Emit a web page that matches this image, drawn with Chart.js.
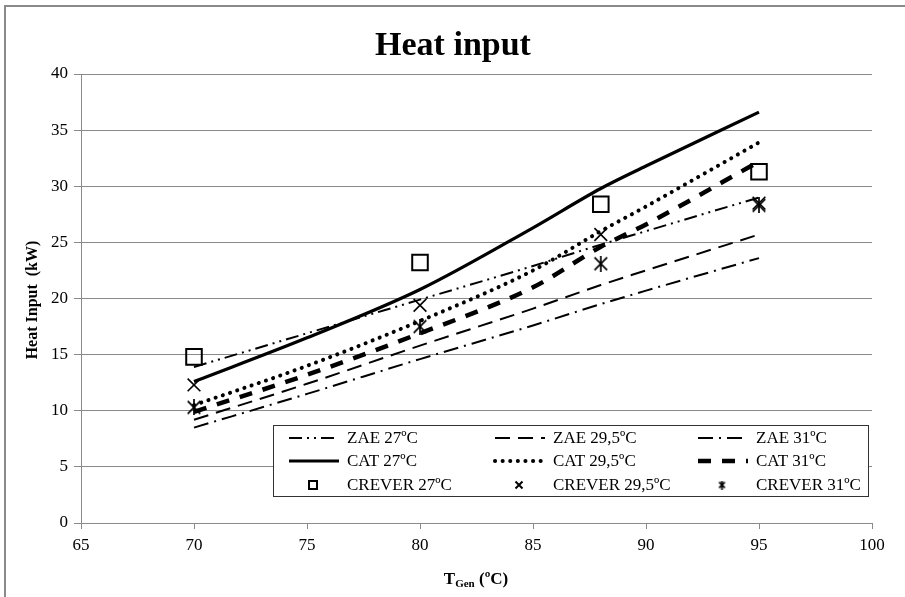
<!DOCTYPE html>
<html lang="en">
<head>
    <meta charset="UTF-8">
    <title>Heat input</title>
    <style>
        body { margin: 0; background: #ffffff; }
        .grafico-container { width: 905px; height: 597px; position: relative; }
    </style>
</head>
<body>
    <div class="grafico-container">
        <canvas id="grafico"></canvas>
    </div>

    <script src="https://cdn.jsdelivr.net/npm/chart.js"></script>
    <script>
        // Dados
        const xTicks = [65, 70, 75, 80, 85, 90, 95, 100];
        const yTicks = [0, 5, 10, 15, 20, 25, 30, 35, 40];

        const tModel = [70, 75, 80, 85, 88, 90, 95];
        const zae27 = [13.9, 16.9, 19.9, 22.9, 24.8, 26.0, 29.0];
        const zae295 = [9.2, 12.4, 15.8, 19.1, 21.2, 22.5, 25.7];
        const zae31 = [8.5, 11.5, 14.6, 17.6, 19.5, 20.7, 23.6];
        const cat27 = [12.6, 16.5, 20.8, 26.3, 29.8, 31.8, 36.6];
        const cat295 = [10.5, 14.0, 18.0, 22.5, 26.0, 28.2, 33.9];
        const cat31 = [9.9, 13.2, 16.9, 21.0, 24.6, 26.6, 32.2];

        const tCrever = [70, 80, 88, 95];
        const crever27 = [14.8, 23.2, 28.4, 31.3];
        const crever295 = [12.3, 19.4, 25.7, 28.5];
        const crever31 = [10.3, 17.5, 23.1, 28.3];

        const pts = (xs, ys) => xs.map((x, i) => ({ x: x, y: ys[i] }));

        // Marcador asterisco (estilo Excel)
        function makeStar(size, lw) {
            const c = document.createElement('canvas');
            c.width = size; c.height = size;
            const g = c.getContext('2d');
            const m = lw;
            g.strokeStyle = '#000';
            g.lineWidth = lw;
            g.beginPath();
            g.moveTo(m, m); g.lineTo(size - m, size - m);
            g.moveTo(size - m, m); g.lineTo(m, size - m);
            g.moveTo(size / 2, 0); g.lineTo(size / 2, size);
            g.stroke();
            return c;
        }
        const starBig = makeStar(16, 1.7);
        const starSmall = makeStar(9, 1.6);

        const lineDs = (label, data, dash, width, cap) => ({
            label: label,
            data: pts(tModel, data),
            showLine: true,
            borderColor: '#000',
            borderWidth: width,
            borderDash: dash,
            borderCapStyle: cap || 'butt',
            cubicInterpolationMode: 'monotone',
            pointRadius: 0,
            pointHoverRadius: 0,
            fill: false
        });

        const datasets = [
            lineDs('ZAE 27ºC', zae27, [13, 5, 2, 5, 2, 5], 2),
            lineDs('ZAE 29,5ºC', zae295, [15, 8], 2),
            lineDs('ZAE 31ºC', zae31, [15, 6, 2, 6], 2),
            lineDs('CAT 27ºC', cat27, [], 3.2),
            lineDs('CAT 29,5ºC', cat295, [0.1, 7.5], 4, 'round'),
            lineDs('CAT 31ºC', cat31, [13, 11], 4.5),
            {
                label: 'CREVER 27ºC', data: pts(tCrever, crever27), showLine: false,
                pointStyle: 'rect', pointRadius: 11, pointBorderWidth: 2,
                pointBorderColor: '#000', pointBackgroundColor: 'rgba(0,0,0,0)',
                legendStyle: 'rect'
            },
            {
                label: 'CREVER 29,5ºC', data: pts(tCrever, crever295), showLine: false,
                pointStyle: 'crossRot', pointRadius: 9, pointBorderWidth: 1.6,
                pointBorderColor: '#000', legendStyle: 'crossRot'
            },
            {
                label: 'CREVER 31ºC', data: pts(tCrever, crever31), showLine: false,
                pointStyle: starBig, pointRadius: 8, legendStyle: 'star'
            }
        ];

        // Legenda em grade 3x3 dentro da área do gráfico
        const gridLegend = {
            id: 'gridLegend',
            afterDraw(chart) {
                const ctx = chart.ctx;
                const box = { l: 273, t: 425, r: 868, b: 496 };
                const cols = [289, 495, 698];
                const rows = [438, 461, 485];
                ctx.save();
                ctx.fillStyle = '#fff';
                ctx.fillRect(box.l, box.t, box.r - box.l, box.b - box.t);
                ctx.strokeStyle = '#333';
                ctx.lineWidth = 1;
                ctx.strokeRect(box.l + 0.5, box.t + 0.5, box.r - box.l, box.b - box.t);

                chart.data.datasets.forEach((ds, i) => {
                    const x = cols[i % 3];
                    const y = rows[Math.floor(i / 3)];
                    ctx.strokeStyle = '#000';
                    if (ds.showLine) {
                        ctx.setLineDash(ds.borderDash);
                        ctx.lineWidth = ds.borderWidth;
                        ctx.lineCap = ds.borderCapStyle;
                        ctx.beginPath();
                        ctx.moveTo(x, y);
                        ctx.lineTo(x + 50, y);
                        ctx.stroke();
                        ctx.setLineDash([]);
                        ctx.lineCap = 'butt';
                    } else {
                        const cx = x + 24;
                        ctx.lineWidth = 2;
                        if (ds.legendStyle === 'rect') {
                            ctx.strokeRect(cx - 4, y - 4, 8, 8);
                        } else if (ds.legendStyle === 'crossRot') {
                            ctx.beginPath();
                            ctx.moveTo(cx - 3.5, y - 3.5); ctx.lineTo(cx + 3.5, y + 3.5);
                            ctx.moveTo(cx + 3.5, y - 3.5); ctx.lineTo(cx - 3.5, y + 3.5);
                            ctx.stroke();
                        } else {
                            ctx.drawImage(starSmall, cx - 4.5, y - 4.5);
                        }
                    }
                    ctx.fillStyle = '#000';
                    ctx.font = '17px "Liberation Serif", serif';
                    ctx.textBaseline = 'middle';
                    ctx.textAlign = 'left';
                    ctx.fillText(ds.label, x + 58, y + 1);
                });
                ctx.restore();
            }
        };

        // Títulos, moldura e subscrito do eixo X
        const titulos = {
            id: 'titulos',
            beforeDraw(chart) {
                const ctx = chart.ctx;
                ctx.save();
                ctx.fillStyle = '#fff';
                ctx.fillRect(0, 0, chart.width, chart.height);
                ctx.strokeStyle = '#8a8a8a';
                ctx.lineWidth = 2;
                ctx.strokeRect(5, 6, chart.width + 10, chart.height + 10);
                ctx.restore();
            },
            afterDraw(chart) {
                const ctx = chart.ctx;
                ctx.save();
                ctx.fillStyle = '#000';
                ctx.textAlign = 'center';
                ctx.textBaseline = 'alphabetic';
                ctx.font = 'bold 34px "Liberation Serif", serif';
                ctx.fillText('Heat input', 453, 55);

                ctx.translate(37, 300);
                ctx.rotate(-Math.PI / 2);
                ctx.font = 'bold 16px "Liberation Serif", serif';
                ctx.fillText('Heat Input  (kW)', 0, 0);
                ctx.setTransform(1, 0, 0, 1, 0, 0);

                const big = 'bold 17px "Liberation Serif", serif';
                const small = 'bold 11px "Liberation Serif", serif';
                ctx.font = big;
                const wT = ctx.measureText('T').width;
                const wRest = ctx.measureText(' (ºC)').width;
                ctx.font = small;
                const wGen = ctx.measureText('Gen').width;
                let x = 476 - (wT + wGen + wRest) / 2;
                const y = 584;
                ctx.textAlign = 'left';
                ctx.font = big;
                ctx.fillText('T', x, y);
                x += wT;
                ctx.font = small;
                ctx.fillText('Gen', x, y + 3);
                x += wGen;
                ctx.font = big;
                ctx.fillText(' (ºC)', x, y);
                ctx.restore();
            }
        };

        const ctx = document.getElementById('grafico').getContext('2d');
        new Chart(ctx, {
            type: 'scatter',
            data: { datasets: datasets },
            options: {
                responsive: true,
                maintainAspectRatio: false,
                animation: false,
                layout: { padding: { top: 74, right: 33, left: 0, bottom: 0 } },
                scales: {
                    x: {
                        type: 'linear',
                        min: xTicks[0],
                        max: xTicks[xTicks.length - 1],
                        afterBuildTicks: (s) => { s.ticks = xTicks.map(v => ({ value: v })); },
                        afterFit: (s) => { s.height = 74; },
                        grid: { drawOnChartArea: false, drawTicks: true, tickLength: 6, color: '#8a8a8a' },
                        border: { color: '#8a8a8a', width: 1 },
                        ticks: { color: '#000', padding: 6, font: { family: '"Liberation Serif", serif', size: 17 } }
                    },
                    y: {
                        type: 'linear',
                        min: yTicks[0],
                        max: yTicks[yTicks.length - 1],
                        afterBuildTicks: (s) => { s.ticks = yTicks.map(v => ({ value: v })); },
                        afterFit: (s) => { s.width = 81; },
                        grid: { color: '#8a8a8a', tickLength: 7 },
                        border: { color: '#8a8a8a', width: 1 },
                        ticks: { color: '#000', padding: 6, font: { family: '"Liberation Serif", serif', size: 17 } }
                    }
                },
                plugins: {
                    legend: { display: false },
                    tooltip: { enabled: false }
                }
            },
            plugins: [titulos, gridLegend]
        });
    </script>
</body>
</html>
